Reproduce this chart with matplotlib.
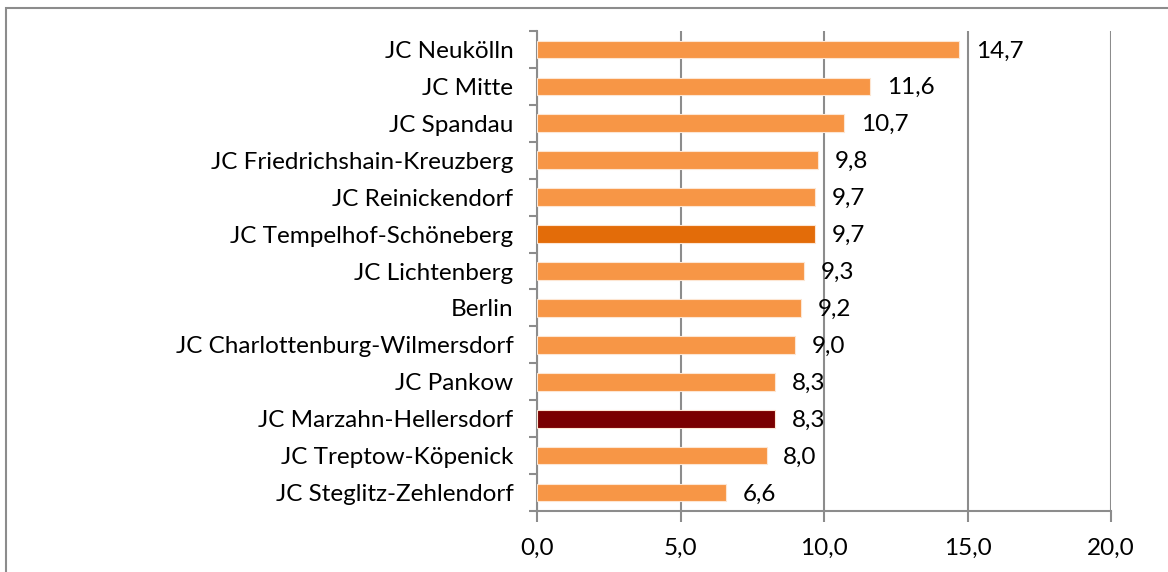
import matplotlib.pyplot as plt
from matplotlib.patches import Rectangle

plt.rcParams['font.family'] = ['Lato', 'DejaVu Sans']

categories = ["JC Neukölln", "JC Mitte", "JC Spandau", "JC Friedrichshain-Kreuzberg",
              "JC Reinickendorf", "JC Tempelhof-Schöneberg", "JC Lichtenberg", "Berlin",
              "JC Charlottenburg-Wilmersdorf", "JC Pankow", "JC Marzahn-Hellersdorf",
              "JC Treptow-Köpenick", "JC Steglitz-Zehlendorf"]
values = [14.7, 11.6, 10.7, 9.8, 9.7, 9.7, 9.3, 9.2, 9.0, 8.3, 8.3, 8.0, 6.6]
xticks = [0, 5, 10, 15, 20]

base = '#F79646'
colors = [base] * len(values)
colors[categories.index("JC Tempelhof-Schöneberg")] = '#E36C09'
colors[categories.index("JC Marzahn-Hellersdorf")] = '#7A0000'

fig = plt.figure(figsize=(11.68, 5.72), dpi=100)
ax = fig.add_axes([537 / 1168, 1 - 511 / 572, (1111 - 537) / 1168, (511 - 31) / 572])

# outer chart border
fig.patches.append(Rectangle((6 / 1168, -0.01), 1.02, 1 - 8 / 572 + 0.01, transform=fig.transFigure,
                             fill=False, edgecolor='#8c8c8c', linewidth=1.5))

ypos = list(range(len(categories)))[::-1]
ax.barh(ypos, values, height=0.48, color=colors, edgecolor='#fde6d3', linewidth=0.8, zorder=3)

fs = 17.5
for y, v in zip(ypos, values):
    ax.annotate(f"{v:.1f}".replace('.', ','), (v, y), xytext=(12, -1), textcoords='offset points',
                va='center', ha='left', fontsize=fs, zorder=4)

ax.set_xlim(0, 20)
ax.set_ylim(-0.5, len(categories) - 0.5)
ax.set_xticks(xticks)
ax.set_xticklabels([f"{t:.1f}".replace('.', ',') for t in xticks], fontsize=fs)
ax.set_yticks(ypos)
ax.set_yticklabels(categories, fontsize=fs)
ax.set_yticks([i - 0.5 for i in range(len(categories) + 1)], minor=True)

ax.grid(axis='x', color='#8c8c8c', linewidth=1.5, zorder=0)
for s in ['top', 'right']:
    ax.spines[s].set_visible(False)
for s in ['left', 'bottom']:
    ax.spines[s].set_color('#8c8c8c')
    ax.spines[s].set_linewidth(1.5)

ax.tick_params(axis='y', which='major', length=0, pad=17)
ax.tick_params(axis='y', which='minor', length=6, width=1.5, color='#8c8c8c')
ax.tick_params(axis='x', length=8, width=1.5, color='#8c8c8c', pad=11)

fig.savefig('out.png', dpi=100)
